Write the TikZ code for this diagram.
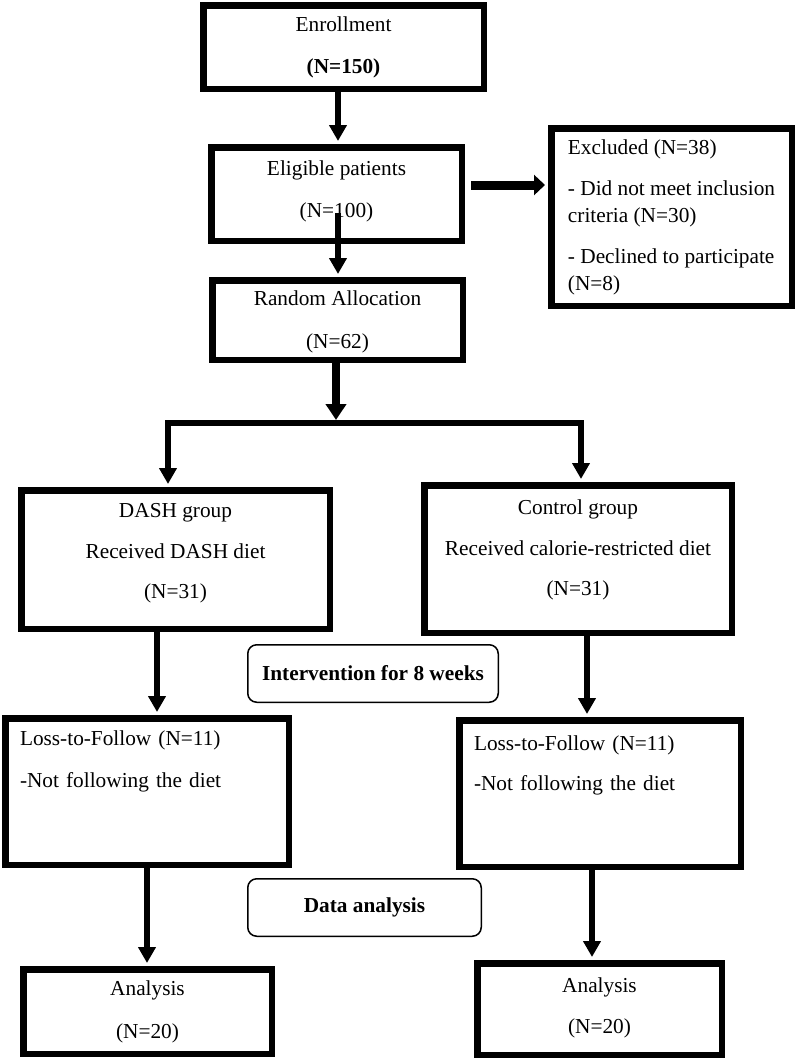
\documentclass[tikz,border=0pt]{standalone}
\usepackage{fontspec}
\setmainfont{Liberation Serif}
\usetikzlibrary{arrows.meta}
\newcommand\mydp[1]{\rule[-#1]{0pt}{0pt}}
\newcommand\myht[1]{\rule{0pt}{#1}}
\begin{document}
\begin{tikzpicture}[x=1pt,y=-1pt,
  box/.style={draw, line width=6.5pt, inner sep=0pt, align=center, font=\fontsize{21.3}{27}\selectfont},
  rbox/.style={draw, line width=1.5pt, rounded corners=9pt, inner sep=0pt, align=center, font=\fontsize{21.3}{27}\selectfont\bfseries},
  arr/.style={line width=6pt, -{Triangle[width=17pt,length=16pt]}, shorten >=3pt},
  conn/.style={line width=6pt}]
\useasboundingbox (0,0) rectangle (796,1061);

% boxes
\node[box, minimum width=280.5pt, minimum height=83.5pt] (enroll) at (343.5,47) {Enrollment\\[15pt]\textbf{(N=150)}};
\node[box, minimum width=250.5pt, minimum height=93.5pt] (elig) at (336.5,194) {Eligible patients\\[15pt](N=100)\mydp{10pt}};
\node[box, minimum width=240.5pt, minimum height=177.5pt, align=left] (excl) at (671.5,217) {Excluded (N=38)\\[14pt]- Did not meet inclusion\\criteria (N=30)\\[14pt]- Declined to participate\\(N=8)};
\node[box, minimum width=250.5pt, minimum height=79.5pt] (rand) at (337.5,320) {\myht{19.5pt}Random Allocation\\[16pt](N=62)};
\node[box, minimum width=308.5pt, minimum height=138.5pt] (dash) at (175.5,559.5) {DASH group\\[13.5pt]Received DASH diet\\[13.5pt](N=31)\mydp{17pt}};
\node[box, minimum width=307.5pt, minimum height=147.5pt] (control) at (578,559) {Control group\\[14pt]Received calorie-restricted diet\\[13pt](N=31)\mydp{22pt}};
\node[box, minimum width=283.5pt, minimum height=146.5pt, text width=254pt, align=left] (loss1) at (147,791.5) {Loss-to-Follow (N=11)\\[15pt]-Not following the diet\mydp{64pt}};
\node[box, minimum width=281.5pt, minimum height=146.5pt, text width=252pt, align=left] (loss2) at (600,793.5) {Loss-to-Follow (N=11)\\[13pt]-Not following the diet\mydp{60pt}};
\node[box, minimum width=248.5pt, minimum height=84.5pt] (ana1) at (147.5,1011.5) {Analysis\\[16pt](N=20)};
\node[box, minimum width=244.5pt, minimum height=91.5pt] (ana2) at (599.5,1009) {Analysis\\[14pt](N=20)\mydp{7pt}};
\node[rbox, minimum width=250.5pt, minimum height=57.5pt] (interv) at (373,673.5) {Intervention for 8 weeks};
\node[rbox, minimum width=233.5pt, minimum height=57.5pt] (data) at (364.5,907.5) {Data analysis};

% connectors
\draw[arr] ([xshift=-5.5pt]enroll.south) -- ([xshift=1.5pt]elig.north);
\draw[arr, line width=9pt, -{Triangle[width=20pt,length=11pt]}] ([xshift=6.25pt,yshift=9pt]elig.east) -- ([yshift=32pt]excl.west);
\draw[arr] ([xshift=1.5pt,yshift=-19pt]elig.center) -- ([xshift=0.5pt]rand.north);

\coordinate (bm) at (336,423);
\coordinate (bl) at (168,423);
\coordinate (brt) at (581,423);
\draw[arr, line width=8pt, -{Triangle[width=20pt,length=16pt]}] ([xshift=-1.5pt]rand.south) -- (bm);
\draw[conn] ([xshift=-3pt]bl) -- ([xshift=3pt]brt);
\draw[arr] (bl) -- (bl |- dash.north);
\draw[arr] (brt) -- (brt |- control.north);

\draw[arr] ([xshift=-18.5pt]dash.south) -- ([xshift=10pt]loss1.north);
\draw[arr] ([xshift=9pt]control.south) -- ([xshift=-13pt]loss2.north);
\draw[arr] (loss1.south) -- (loss1.south |- ana1.north);
\draw[arr] ([xshift=-8pt]loss2.south) -- ([xshift=-7.5pt]ana2.north);
\end{tikzpicture}
\end{document}
